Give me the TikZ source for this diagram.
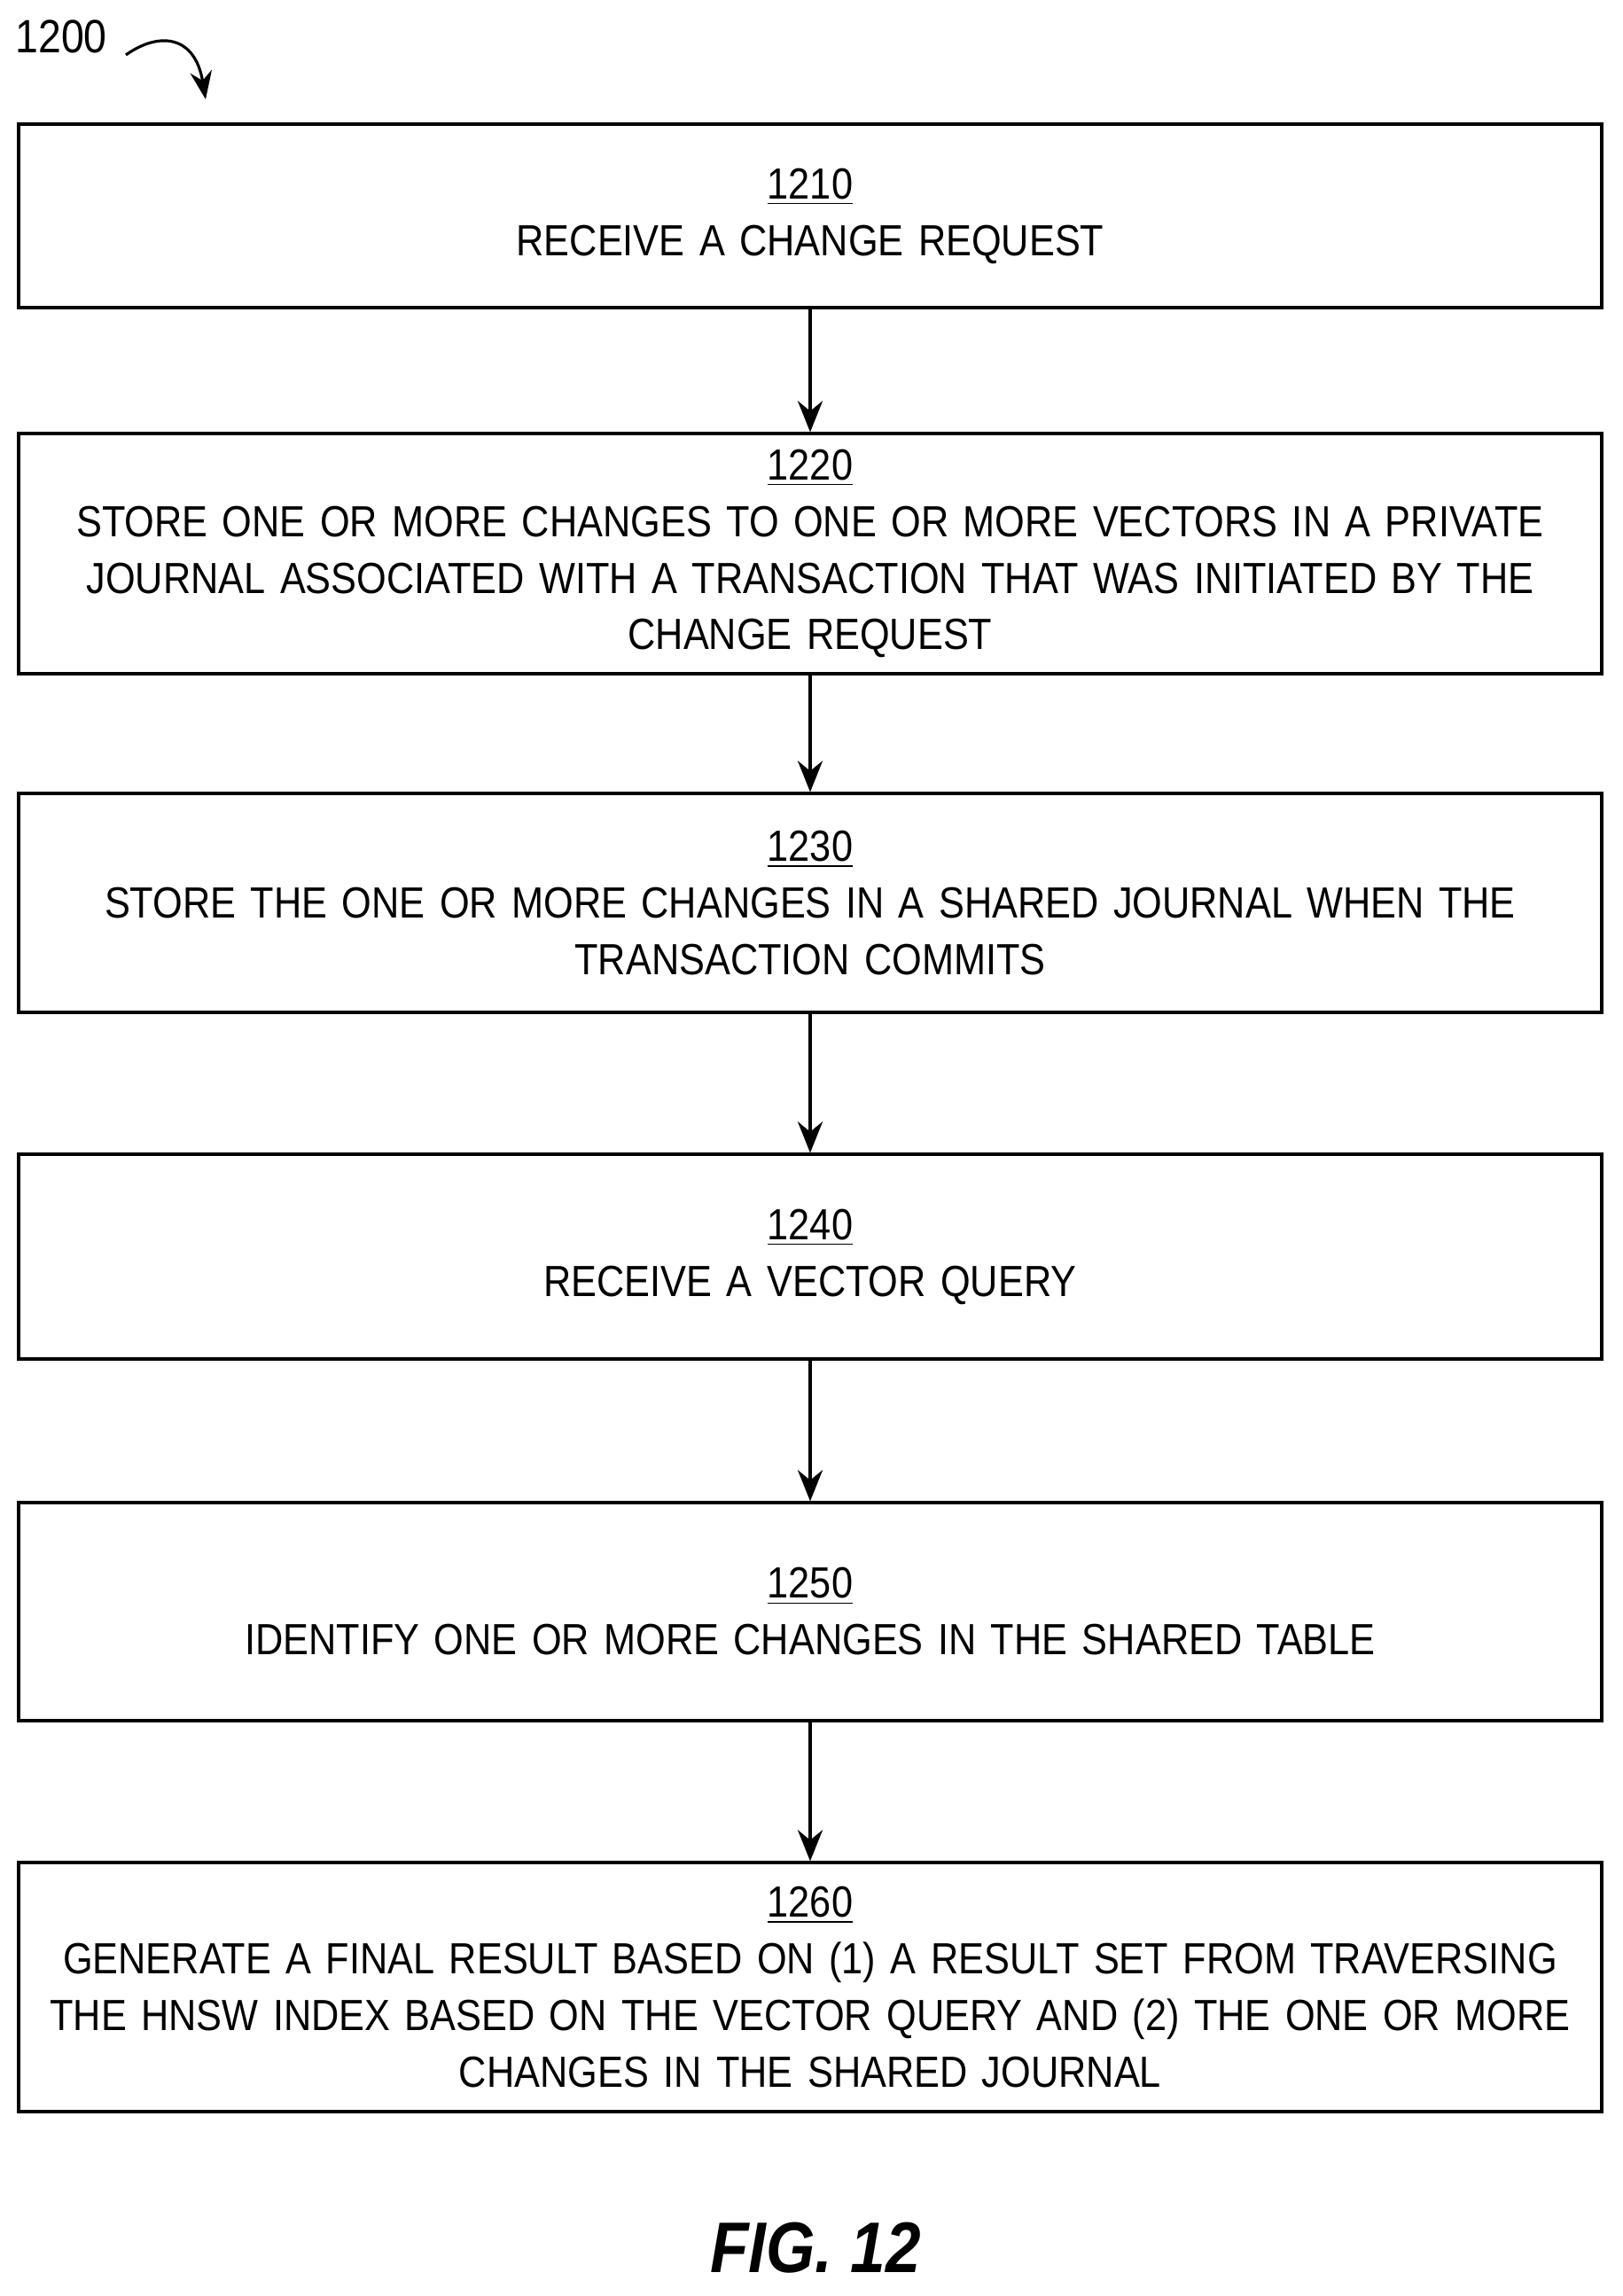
\documentclass[tikz,border=0pt]{standalone}
\usepackage{fontspec}
\setmainfont{Liberation Sans}[FakeStretch=0.88]
\usetikzlibrary{arrows.meta, positioning}

\begin{document}
\begin{tikzpicture}[
    stepbox/.style={rectangle, draw=black, line width=0.9pt, minimum width=17.86cm, text width=17.6cm, align=center, font=\fontsize{14}{18.2}\selectfont, inner sep=0pt},
    arrow/.style={line width=0.9pt, -{Stealth[length=10pt, width=8pt]}}
]
\useasboundingbox (0,0) rectangle (18.31,-25.9);

% Label
\node[font=\fontsize{15}{18}\selectfont, anchor=west] (label) at (0.05,-0.41) {1200};
\draw[line width=0.9pt, -{Stealth[length=9pt, width=7pt]}] (1.42,-0.62) .. controls (1.8,-0.35) and (2.2,-0.4) .. (2.32,-1.12);

% Steps
\node[stepbox, minimum height=2.07cm] (s1210) at (9.14,-2.435) {\underline{1210}\\RECEIVE A CHANGE REQUEST};
\node[stepbox, minimum height=2.71cm] (s1220) at (9.14,-6.245) {\underline{1220}\\STORE ONE OR MORE CHANGES TO ONE OR MORE VECTORS IN A PRIVATE\\JOURNAL ASSOCIATED WITH A TRANSACTION THAT WAS INITIATED BY THE\\CHANGE REQUEST};
\node[stepbox, minimum height=2.47cm] (s1230) at (9.14,-10.185) {\underline{1230}\\STORE THE ONE OR MORE CHANGES IN A SHARED JOURNAL WHEN THE\\TRANSACTION COMMITS};
\node[stepbox, minimum height=2.31cm] (s1240) at (9.14,-14.175) {\underline{1240}\\RECEIVE A VECTOR QUERY};
\node[stepbox, minimum height=2.46cm] (s1250) at (9.14,-18.18) {\underline{1250}\\IDENTIFY ONE OR MORE CHANGES IN THE SHARED TABLE};
\node[stepbox, minimum height=2.81cm] (s1260) at (9.14,-22.415) {\underline{1260}\\GENERATE A FINAL RESULT BASED ON (1) A RESULT SET FROM TRAVERSING\\THE HNSW INDEX BASED ON THE VECTOR QUERY AND (2) THE ONE OR MORE\\CHANGES IN THE SHARED JOURNAL};

% Arrows
\draw[arrow] (s1210) -- (s1220);
\draw[arrow] (s1220) -- (s1230);
\draw[arrow] (s1230) -- (s1240);
\draw[arrow] (s1240) -- (s1250);
\draw[arrow] (s1250) -- (s1260);

% Figure caption
\node[font=\fontsize{23}{28}\selectfont\bfseries\itshape] (fig) at (9.2,-25.36) {FIG. 12};
\end{tikzpicture}
\end{document}
